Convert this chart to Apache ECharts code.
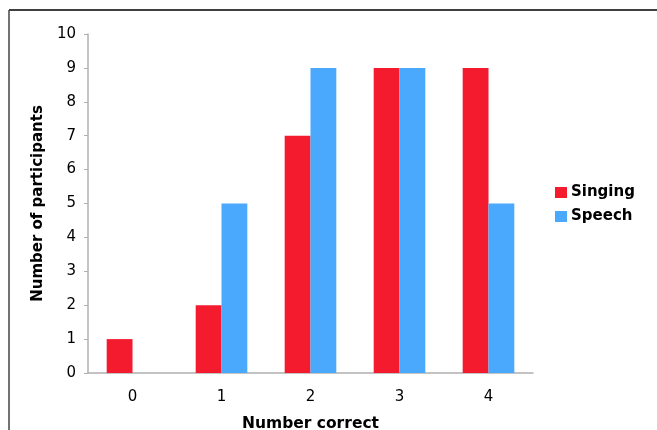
<!DOCTYPE html>
<html><head><meta charset="utf-8">
<script src="https://cdn.jsdelivr.net/npm/echarts@6/dist/echarts.min.js"></script>
<style>html,body{margin:0;padding:0;background:#fff}#c{width:657px;height:430px}</style>
</head><body><div id="c"></div>
<script>
const categories = ['0','1','2','3','4'];
const singing = [1, 2, 7, 9, 9];
const speech = [0, 5, 9, 9, 5];
const yTicks = [0,1,2,3,4,5,6,7,8,9,10];

const chart = echarts.init(document.getElementById('c'));
const font = 'DejaVu Sans, Verdana, sans-serif';
chart.setOption({
  animation: false,
  backgroundColor: '#fff',
  grid: {left: 88, top: 34, width: 445, bottom: 57, containLabel: false, outerBoundsMode: 'none'},
  legend: {
    orient: 'vertical', left: 555, top: 185, itemWidth: 12, itemHeight: 11, itemGap: 9,
    icon: 'rect', padding: 0,
    textStyle: {fontFamily: font, fontWeight: 'bold', fontSize: 15, color: '#000', padding: [0,0,0,-1]},
    data: ['Singing','Speech']
  },
  xAxis: {
    type: 'category', data: categories,
    axisLine: {lineStyle: {color: '#b0b0b0', width: 1.5}},
    axisTick: {show: false},
    axisLabel: {fontFamily: font, fontSize: 15, color: '#000', margin: 17},
    name: 'Number correct', nameLocation: 'middle', nameGap: 43,
    nameTextStyle: {fontFamily: font, fontWeight: 'bold', fontSize: 15.5, color: '#000'}
  },
  yAxis: {
    type: 'value', min: yTicks[0], max: yTicks[yTicks.length-1], interval: 1,
    axisLine: {show: true, lineStyle: {color: '#b0b0b0', width: 1.5}},
    axisTick: {show: true, length: 4, lineStyle: {color: '#b0b0b0'}},
    splitLine: {show: false},
    axisLabel: {fontFamily: font, fontSize: 15, color: '#000', margin: 12},
    name: 'Number of participants', nameLocation: 'middle', nameGap: 39,
    nameTextStyle: {fontFamily: font, fontWeight: 'bold', fontSize: 15, color: '#000'}
  },
  series: [
    {name: 'Singing', type: 'bar', data: singing, barGap: '0%', barCategoryGap: '42%',
     itemStyle: {color: '#f31b2d'}},
    {name: 'Speech', type: 'bar', data: speech, barGap: '0%', barCategoryGap: '42%',
     itemStyle: {color: '#4aa9fc'}}
  ],
  graphic: [
    {type: 'line', shape: {x1: 9, y1: 10, x2: 657, y2: 10}, style: {stroke: '#000', lineWidth: 1.5}},
    {type: 'line', shape: {x1: 9, y1: 10, x2: 9, y2: 430}, style: {stroke: '#444', lineWidth: 1.5}}
  ]
});
</script></body></html>
